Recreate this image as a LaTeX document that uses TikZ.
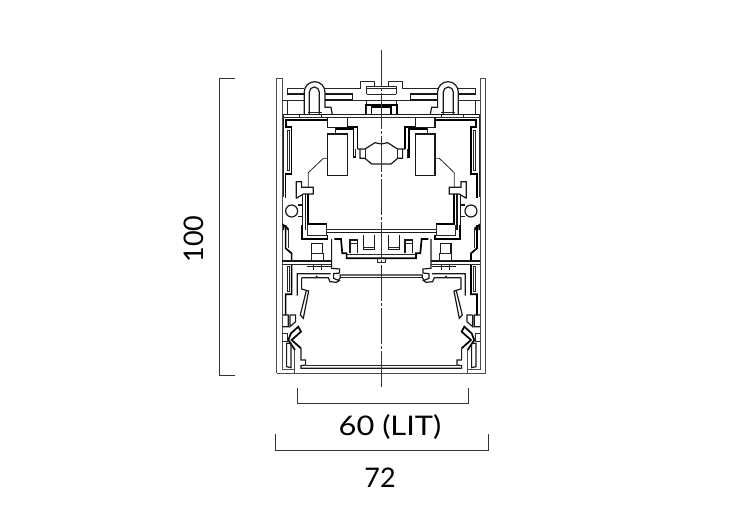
\documentclass[tikz,border=0pt]{standalone}
\usepackage{fontspec}
\setmainfont{Lato}
\tikzset{
  prof/.style = {draw = black!85, line width = 0.8pt},
  wall/.style = {draw = black!70, line width = 1pt},
  mid/.style = {draw = black!90, line width = 1.2pt},
  heavy/.style = {draw = black, line width = 1.7pt},
  dim/.style = {draw = black!80, line width = 0.7pt},
  dimtext/.style = {font = \fontsize{27}{30}\selectfont, inner sep = 0pt}
}
% one side of the section, in crop units
\newcommand{\sidetop}{
 \draw[wall] (52,480) -- (52,25) -- (36,25) -- (36,480);
 % top rail and keyhole
 \draw[prof] (66,72) -- (66,55) -- (118,55) (52,90) -- (118,90);
 \draw[mid] (66,72) -- (118,72);
 \draw[mid] (118,133) -- (118,66) arc[start angle = 180, end angle = 360, radius = 31] -- (180,112) -- (198,112) -- (202,133);
 \draw[mid] (133,133) -- (133,66) arc[start angle = 180, end angle = 360, radius = 15] -- (163,133);
 \draw[prof] (180,55) -- (287,55) -- (287,33) -- (328,33) -- (328,48) -- (349,48) (305,55) -- (349,55) (305,72) -- (349,72) (305,72) -- (305,48) -- (328,48);
 \draw[mid] (180,72) -- (262,72) -- (262,90) -- (180,90);
 \draw[prof] (262,90) -- (349,90) (66,90) -- (66,133) (304,90) -- (304,133);
 \draw[heavy] (302,133) -- (302,105) -- (349,105) (320,133) -- (320,112) -- (349,112);
 \draw[prof] (102,133) -- (102,141) (128,128) -- (170,128) (168,133) -- (168,141);
 \draw[mid] (55,133) -- (349,133);
 \draw[prof] (55,133) -- (55,380) (55,141) -- (349,141);
 % inner casing
 \draw[heavy] (188,150) -- (64,150) -- (64,172) -- (80,172) -- (80,312) -- (62,312) -- (62,385);
 \draw[prof] (66,180) -- (66,300) -- (73,300) -- (73,180) -- cycle;
 % driver blocks
 \draw[mid] (188,141) -- (188,172) -- (247,172) -- (247,141);
 \draw[prof] (212,172) -- (212,192);
 \draw[heavy] (247,170) -- (278,170) -- (278,237) (212,178) -- (266,178) -- (266,262) -- (272,262);
 \draw[mid] (188,192) -- (247,192) -- (247,316) -- (188,316) -- cycle;
 \draw[mid] (278,237) -- (300,237) -- (330,218) -- (349,222) (285,237) -- (285,265) -- (300,265) -- (320,282) -- (349,282);
 \draw[prof] (272,237) -- (272,262) (300,237) -- (300,265);
 % slope and clip
 \draw[prof] (188,265) -- (175,265) -- (130,308) -- (130,352);
 \draw[mid] (94,385) -- (94,335) -- (110,335) -- (110,352) -- (145,352) -- (145,372) -- (115,372) -- (94,385);
 \draw[heavy] (130,372) -- (130,462) -- (185,462);
 \draw[mid] (122,372) -- (122,480) (112,372) -- (112,480);
 \draw[mid] (80,423) circle[radius = 18];
 \draw[mid] (98,405) -- (110,405) (98,440) -- (110,440);
 \draw[heavy] (55,480) -- (55,465) -- (68,475) -- (68,480);
 \draw[prof] (185,462) -- (185,480);
}
\newcommand{\sidebottom}{
 \draw[wall] (36,0) -- (36,445) (52,0) -- (52,432) -- (90,432) (90,375) -- (90,445);
 % upper casing
 \draw[heavy] (62,0) -- (62,70) -- (80,85) -- (80,105) (80,120) -- (80,208) -- (62,208) -- (62,270);
 \draw[prof] (70,10) -- (70,70) (66,125) -- (66,200) -- (73,200) -- (73,125) -- cycle;
 \draw[mid] (52,108) -- (200,108);
 \draw[prof] (52,118) -- (200,118);
 % box under the driver
 \draw[prof] (128,0) -- (128,30) -- (185,30) -- (185,0);
 \draw[heavy] (112,0) -- (112,42) -- (188,42) -- (188,30);
 \draw[prof] (185,14) -- (349,14);
 \draw[mid] (185,22) -- (349,22);
 % post
 \draw[mid] (140,85) -- (140,55) -- (172,55) -- (172,85);
 \draw[prof] (138,85) -- (174,85) -- (174,105) -- (138,105) -- cycle;
 \draw[prof] (145,118) -- (145,135) (168,118) -- (168,135);
 \draw[mid] (125,125) -- (198,125);
 % centre tray
 \draw[heavy] (208,42) -- (228,42) -- (232,85) -- (245,85) -- (245,100) -- (349,100);
 \draw[prof] (245,88) -- (349,88) (338,100) -- (338,112) -- (349,112);
 \draw[mid] (255,85) -- (255,45) -- (278,45) -- (278,85);
 \draw[prof] (255,56) -- (278,56);
 \draw[mid] (295,30) -- (295,74) -- (328,74) -- (328,30);
 \draw[prof] (295,68) -- (328,68);
 % clip and lens carrier
 \draw[mid] (200,42) -- (200,130) -- (224,132) -- (224,144) -- (206,146) -- (206,160) -- (220,166) -- (226,158) -- (226,150) -- (349,150);
 \draw[prof] (226,158) -- (349,158);
 \draw[mid] (97,212) -- (97,146) -- (197,146) (110,158) -- (190,158) -- (195,170) -- (215,172) -- (225,165);
 \draw[mid] (110,158) -- (110,192) -- (131,198) -- (115,280) -- (106,270) -- (124,197);
 \draw[prof] (152,157) -- (155,153) -- (158,157);
 % lower clips
 \draw[mid] (52,270) -- (70,270) -- (70,305) -- (52,305) (75,270) -- (92,270) -- (92,290) -- (75,305) -- (75,270);
 \draw[heavy] (108,370) -- (80,345) -- (108,320) -- (100,305) -- (78,325) -- (70,345) -- (90,375);
 \draw[mid] (108,370) -- (108,405) -- (122,405) -- (122,420) -- (108,422) -- (108,430) -- (349,430);
 \draw[prof] (52,325) -- (66,325) -- (66,350) -- (52,350);
 \draw[mid] (65,355) -- (65,425) -- (78,428) -- (78,355) -- cycle;
 \draw[prof] (122,420) -- (349,420);
 \draw[wall] (36,445) -- (349,445);
}
\begin{document}
\begin{tikzpicture}[x = 1pt, y = -1pt]
 \useasboundingbox (0,0) rectangle (740,528);
 \foreach \flip in {1,-1}{
  \begin{scope}[shift = {(381.3,70)}, xscale = \flip/3, yscale = 1/3, shift = {(-349,0)}]
   \sidetop
  \end{scope}
  \begin{scope}[shift = {(381.3,225)}, xscale = \flip/3, yscale = 1/3, shift = {(-349,0)}]
   \sidebottom
  \end{scope}
 }
 \draw[dim, dash pattern = on 36pt off 2pt on 3pt off 2pt] (381.3,50) -- (381.3,388);

 \coordinate (htop) at (219,78);
 \coordinate (hbot) at (219,375);
 \draw[dim] (235,78) -- (htop) -- (hbot) -- (235,375);
 \node[dimtext, rotate = 90] (height) at (194,239) {100};

 \coordinate (litl) at (297,403);
 \coordinate (litr) at (468,403);
 \draw[dim] (297,388) -- (litl) -- (litr) -- (468,388);
 \node[dimtext, xscale = 1.14] (lit) at (390,427) {60 (LIT)};

 \coordinate (widl) at (275,450);
 \coordinate (widr) at (488,450);
 \draw[dim] (275,434) -- (widl) -- (widr) -- (488,434);
 \node[dimtext] (width) at (380,478) {72};
\end{tikzpicture}
\end{document}
